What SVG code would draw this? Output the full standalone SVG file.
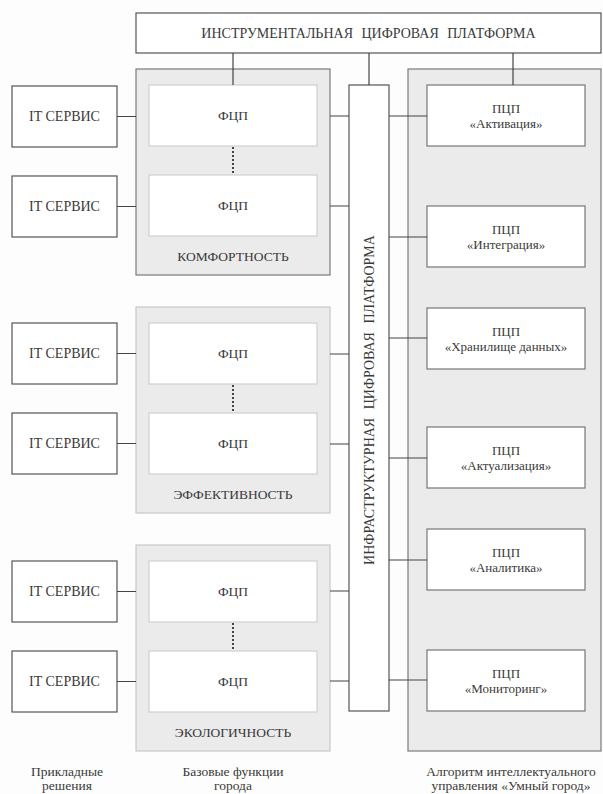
<svg xmlns="http://www.w3.org/2000/svg" width="603" height="794" viewBox="0 0 603 794" font-family="'Liberation Serif', 'DejaVu Serif', serif">
<style>
text{font-family:'Liberation Serif','DejaVu Serif',serif;fill:#3a3a3a;text-anchor:middle}
.t{font-size:13px}
.big{font-size:14px}
.cap{font-size:13.5px}
.it{font-size:14px}
.lbl{font-size:13.5px}
.box{fill:#fff;stroke:#555;stroke-width:1.2}
.pcp{fill:#fff;stroke:#777;stroke-width:1.2}
.fcp{fill:#fff;stroke:#d0d0d0;stroke-width:1.2}
.grpD{fill:#ebebeb;stroke:#7a7a7a;stroke-width:1.2}
.grpL{fill:#ebebeb;stroke:#c8c8c8;stroke-width:1.2}
.c{stroke:#444;stroke-width:1.2;fill:none}
.dot{stroke:#444;stroke-width:2;stroke-dasharray:2 2;fill:none}
</style>
<rect width="603" height="794" fill="#fdfdfd"/>

<g id="top">
<rect class="box" x="136" y="13" width="465" height="40"/>
<text class="big" x="368.5" y="37.5" word-spacing="5">ИНСТРУМЕНТАЛЬНАЯ ЦИФРОВАЯ ПЛАТФОРМА</text>
</g>

<g id="g-comfort">
<rect class="grpD" x="136" y="69" width="194" height="206"/>
<rect class="fcp" x="149" y="85" width="168" height="61"/>
<text class="lbl" x="233" y="120">ФЦП</text>
<rect class="fcp" x="149" y="175" width="168" height="61"/>
<text class="lbl" x="233" y="210">ФЦП</text>
<text class="lbl" x="233" y="261">КОМФОРТНОСТЬ</text>
</g>

<g id="g-eff">
<rect class="grpL" x="136" y="307" width="194" height="206"/>
<rect class="fcp" x="149" y="323" width="168" height="61"/>
<text class="lbl" x="233" y="358">ФЦП</text>
<rect class="fcp" x="149" y="413" width="168" height="61"/>
<text class="lbl" x="233" y="448">ФЦП</text>
<text class="lbl" x="233" y="499">ЭФФЕКТИВНОСТЬ</text>
</g>

<g id="g-eco">
<rect class="grpL" x="136" y="545" width="194" height="206"/>
<rect class="fcp" x="149" y="561" width="168" height="61"/>
<text class="lbl" x="233" y="596">ФЦП</text>
<rect class="fcp" x="149" y="651" width="168" height="61"/>
<text class="lbl" x="233" y="686">ФЦП</text>
<text class="lbl" x="233" y="737">ЭКОЛОГИЧНОСТЬ</text>
</g>

<g id="it1"><rect class="box" x="12" y="86" width="105" height="61"/><text class="it" x="64.5" y="121">IT СЕРВИС</text></g>
<g id="it2"><rect class="box" x="12" y="176" width="105" height="61"/><text class="it" x="64.5" y="211">IT СЕРВИС</text></g>
<g id="it3"><rect class="box" x="12" y="323" width="105" height="61"/><text class="it" x="64.5" y="358">IT СЕРВИС</text></g>
<g id="it4"><rect class="box" x="12" y="413" width="105" height="61"/><text class="it" x="64.5" y="448">IT СЕРВИС</text></g>
<g id="it5"><rect class="box" x="12" y="561" width="105" height="61"/><text class="it" x="64.5" y="596">IT СЕРВИС</text></g>
<g id="it6"><rect class="box" x="12" y="651" width="105" height="61"/><text class="it" x="64.5" y="686">IT СЕРВИС</text></g>

<g id="infra">
<rect class="box" x="349" y="85" width="40" height="626"/>
<text class="big" transform="translate(373.5 400) rotate(-90)" word-spacing="5">ИНФРАСТРУКТУРНАЯ ЦИФРОВАЯ ПЛАТФОРМА</text>
</g>

<g id="algo">
<rect class="grpD" x="408" y="69" width="193" height="682"/>
</g>

<g id="pcp1"><rect class="pcp" x="427" y="85" width="158" height="61"/><text class="t" x="506" y="113">ПЦП</text><text class="t" x="506" y="128">«Активация»</text></g>
<g id="pcp2"><rect class="pcp" x="427" y="206" width="158" height="61"/><text class="t" x="506" y="234">ПЦП</text><text class="t" x="506" y="249">«Интеграция»</text></g>
<g id="pcp3"><rect class="pcp" x="427" y="308" width="158" height="61"/><text class="t" x="506" y="336">ПЦП</text><text class="t" x="506" y="351">«Хранилище данных»</text></g>
<g id="pcp4"><rect class="pcp" x="427" y="427" width="158" height="61"/><text class="t" x="506" y="455">ПЦП</text><text class="t" x="506" y="470">«Актуализация»</text></g>
<g id="pcp5"><rect class="pcp" x="427" y="529" width="158" height="61"/><text class="t" x="506" y="557">ПЦП</text><text class="t" x="506" y="572">«Аналитика»</text></g>
<g id="pcp6"><rect class="pcp" x="427" y="650" width="158" height="61"/><text class="t" x="506" y="678">ПЦП</text><text class="t" x="506" y="693">«Мониторинг»</text></g>

<g id="connectors">
<path class="c" d="M233 53V85M369 53V85M513 53V85"/>
<path class="c" d="M117 116.5H136M117 206.5H136M117 353.5H136M117 443.5H136M117 591.5H136M117 681.5H136"/>
<path class="c" d="M330 116H349M330 206H349M330 354H349M330 444H349M330 591H349M330 681H349"/>
<path class="c" d="M389 116H427M389 237H427M389 338H427M389 458H427M389 560H427M389 680H427"/>
<path class="dot" d="M233 147V175M233 385V413M233 623V651"/>
</g>

<g id="captions">
<text class="cap" x="67" y="776">Прикладные</text>
<text class="cap" x="67" y="790">решения</text>
<text class="cap" x="233" y="776">Базовые функции</text>
<text class="cap" x="233" y="790">города</text>
<text class="cap" x="511" y="776">Алгоритм интеллектуального</text>
<text class="cap" x="511" y="790">управления «Умный город»</text>
</g>
</svg>
